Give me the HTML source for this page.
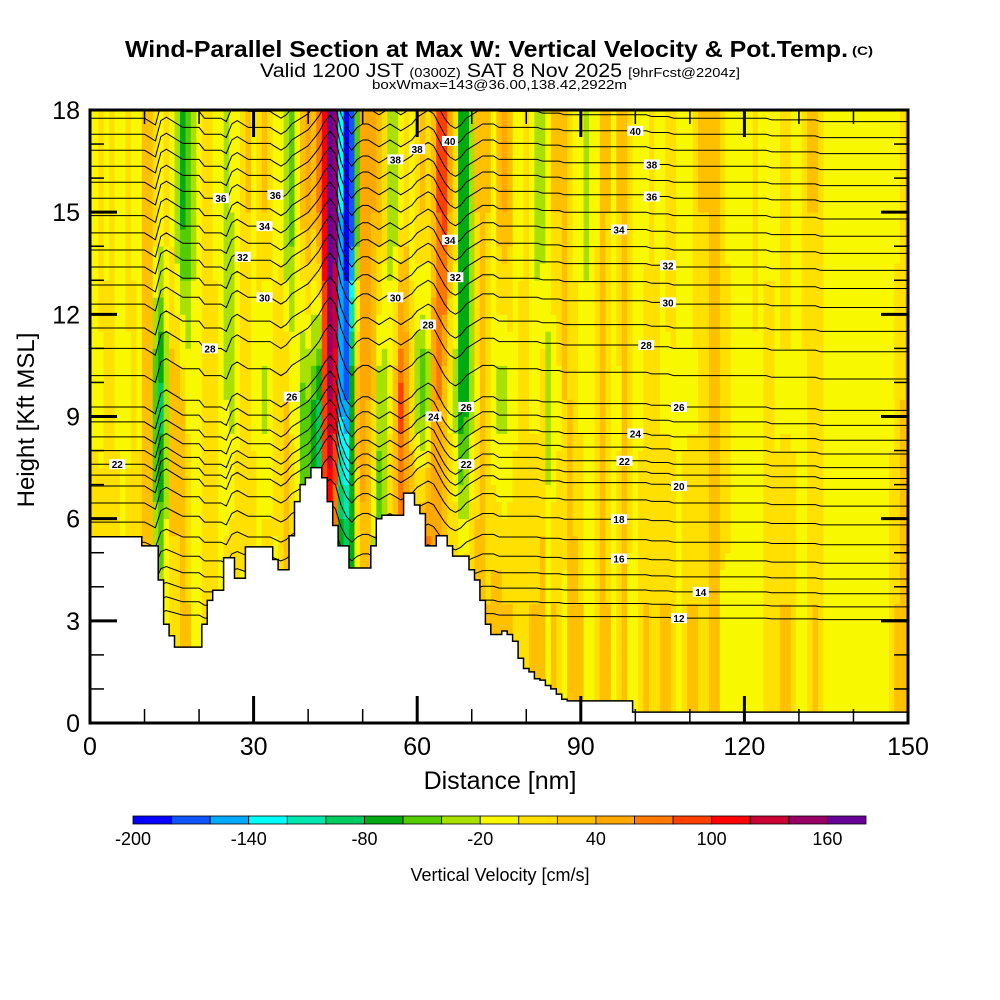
<!DOCTYPE html>
<html><head><meta charset="utf-8">
<style>
html,body{margin:0;padding:0;background:#fff;}
svg{display:block;font-family:"Liberation Sans",Arial,sans-serif;}
</style></head>
<body>
<svg id="chart" width="1000" height="1000" viewBox="0 0 1000 1000" xmlns="http://www.w3.org/2000/svg">
<rect width="1000" height="1000" fill="#fff"/>
<g>
<text x="125" y="57" font-size="23" font-weight="bold" textLength="723" lengthAdjust="spacingAndGlyphs">Wind-Parallel Section at Max W: Vertical Velocity &amp; Pot.Temp.</text>
<text x="852" y="55" font-size="12" font-weight="bold" textLength="21" lengthAdjust="spacingAndGlyphs">(C)</text>
</g>
<text x="260" y="77" font-size="19" textLength="480" lengthAdjust="spacingAndGlyphs">Valid 1200 JST <tspan font-size="13">(0300Z)</tspan> SAT 8 Nov 2025 <tspan font-size="13">[9hrFcst@2204z]</tspan></text>
<text x="372" y="89" font-size="13" textLength="255" lengthAdjust="spacingAndGlyphs">boxWmax=143@36.00,138.42,2922m</text>
<defs><clipPath id="plotclip"><rect x="90" y="110" width="818" height="613"/></clipPath></defs>
<g id="field" clip-path="url(#plotclip)"></g>
<g id="contours" clip-path="url(#plotclip)"></g>
<g id="terrain" clip-path="url(#plotclip)"></g>
<g id="labels"></g>
<rect x="90" y="110" width="818" height="613" fill="none" stroke="#000" stroke-width="3"/>
<g id="axes"></g>
<text transform="translate(34,420) rotate(-90)" text-anchor="middle" font-size="24">Height [Kft MSL]</text>
<text x="500" y="789" text-anchor="middle" font-size="25">Distance [nm]</text>
<g id="cbar"></g>
<text x="500" y="881" text-anchor="middle" font-size="18">Vertical Velocity [cm/s]</text>
</svg>
<script>
const colors = ["#0000ff","#0f55ff","#00aaff","#00ffff","#00e8b0","#00cc60","#00aa10","#55cc00","#aae000","#f8f800","#ffe000","#ffc000","#ffa800","#ff7800","#ff4000","#ff0000","#cc0033","#990066","#660099"];
const cbarTicks = [-200,-140,-80,-20,40,100,160];
const xTicks = [0,30,60,90,120,150];
const yTicks = [0,3,6,9,12,15,18];
const wTop = [-5,-5,10,-5,10,-5,-5,10,-5,-5, 30,30,15,-5,10,-5,-40,-70,-60,-30, -5,15,10,-5,-20,-30,-20,-5,15,20, -5,15,20,10,-5,-5,-40,-50,-20,30, 40,30,60,110,170,150,-140,-190,-180,-60, 40,50,40,30,10,-30,-30,-5,10,-5, 15,20,10,30,80,90,40,10,-70,-80, -40,20,30,20,-5,30,40,30,-5,-5, 10,-5,-30,-30,-5,20,20,20,10,-5, -10,-30,-20,-5,20,20,-5,20,20,15, -5,-5,-5,10,-5,-5,10,15,-5,-5, -5,15,20,20,20,20,15,-5,-5,-5, -5,-5,10,-5,-5,-5,-5,15,15,-5, -5,15,20,20,15,-5,-5,-5,-5,-5, -5,-5,-5,-5,-5,-5,-5,-5,-5,10,20];
const wMid = [-5,-5,-5,10,15,-5,-5,-5,10,-5, 20,30,-60,-90,-40,30,30,20,-5,-5, -5,10,15,10,-5,-20,-30,-5,20,10, -5,-20,-30,-20,10,15,20,-5,-20,-50, -40,-60,-80,80,140,110,-150,-160,-60,40, 50,40,20,-30,-30,-5,30,90,60,10, -40,-60,-30,50,60,30,-5,-30,-80,-70, -30,-5,20,10,-20,-30,-30,-20,-5,10, 10,-5,-5,10,-30,-20,-5,20,20,10, -5,-5,-5,20,20,15,-5,-5,20,15, -5,-5,15,20,15,-5,-5,-5,-5,-5, -5,-5,15,15,20,20,20,15,-5,-5, -5,-5,-5,-5,10,10,-5,-5,-5,-5, -5,-5,15,15,10,-5,-5,-5,-5,-5, -5,-5,-5,-5,-5,-5,-5,-5,15,20,20];
const wBot = [15,15,10,-5,15,15,-5,10,-5,15, 20,30,-20,-30,-5,15,15,20,20,-5, -5,15,20,15,-5,10,20,15,-5,20, 15,-5,20,15,-5,15,20,20,-5,-50, -80,-120,-100,120,80,40,-30,-60,-80,-20, 30,20,-40,-70,-30,20,30,40,40,50, 70,100,110,60,50,40,30,30,20,20, 30,40,30,20,30,30,20,20,15,15, 15,20,20,25,-5,20,15,-5,20,25, 20,-5,-5,15,20,20,-5,15,20,-5, -5,15,20,15,15,20,20,15,-5,15, 20,20,15,15,20,20,-5,-5,-5,-5, -5,-5,-5,-5,10,15,15,20,20,15, -5,-5,15,20,15,-5,-5,-5,-5,-5, -5,-5,-5,-5,-5,-5,-5,15,20,20,20];
const terrain = [5.47,5.47,5.47,5.47,5.47,5.47,5.47,5.47,5.47,5.47, 5.2,5.2,5.2,4.2,2.9,2.56,2.23,2.23,2.23,2.23, 2.23,2.9,3.6,3.9,3.9,4.85,4.85,4.25,4.25,5.17, 5.17,5.17,5.17,5.17,4.8,4.5,4.5,5.5,6.5,7.0, 7.2,7.5,7.5,7.2,6.5,5.8,5.2,5.2,4.55,4.55, 4.55,4.55,5.2,6.0,6.1,6.1,6.1,6.1,6.75,6.75, 6.4,6.15,5.2,5.2,5.5,5.5,5.2,4.9,4.9,4.9, 4.5,4.2,3.6,2.9,2.6,2.6,2.7,2.6,2.4,1.9, 1.6,1.5,1.3,1.26,1.1,1.0,0.85,0.7,0.65,0.65, 0.65,0.65,0.65,0.65,0.65,0.65,0.65,0.65,0.65,0.65, 0.32,0.32,0.32,0.32,0.32,0.32,0.32,0.32,0.32,0.32, 0.32,0.32,0.32,0.32,0.32,0.32,0.32,0.32,0.32,0.32, 0.32,0.32,0.32,0.32,0.32,0.32,0.32,0.32,0.32,0.32, 0.32,0.32,0.32,0.32,0.32,0.32,0.32,0.32,0.32,0.32, 0.32,0.32,0.32,0.32,0.32,0.32,0.32,0.32,0.32,0.32,0.32];
const thetaLevels = [12,13,14,15,16,17,18,19,20,21,22,23,24,25,26,27,28,29,30,31,32,33,34,35,36,37,38,39,40,41,42];
const thetaHeights = [3.08,3.46,3.85,4.29,4.76,5.31,5.9,6.46,6.96,7.28,7.6,8.0,8.4,8.84,9.28,10.2,11.0,11.6,12.3,12.86,13.39,13.89,14.39,14.9,15.41,15.88,16.35,16.82,17.29,17.76,18.3];
const thetaDisp = [0,0,0,0,0,0,0,0,0,0, 0,-0.1,-0.2,0.4,0.5,0.4,0.3,0.2,0.2,0.2, 0.2,0,0,0,0,-0.1,0.3,0.4,0.3,0.2, 0.2,0.2,0.2,0.2,0.1,0,0.1,0.3,0.4,0.5, 0.6,0.8,1.0,1.3,1.5,1.3,0.6,0.2,0,0.2, 0.3,0.3,0.2,0.1,0.2,0.3,0.2,0.1,0.2,0.3, 0.5,0.6,0.7,0.6,0.3,0,-0.2,-0.3,-0.2,0, 0.1,0.2,0.3,0.3,0.3,0.2,0.2,0.2,0.2,0.2, 0.2,0.2,0.2,0.15,0.15,0.15,0.15,0.1,0.1,0.1, 0.1,0.1,0.1,0.1,0.1,0.1,0.1,0.1,0.1,0.1, 0.1,0.1,0.1,0.05,0.05,0.05,0.05,0,0,0, 0,0,0,0,0,0,0,0,0,0, 0,0,0,0,0,-0.05,-0.05,-0.05,-0.05,-0.05, -0.05,-0.05,-0.05,-0.05,-0.1,-0.1,-0.1,-0.1,-0.1,-0.1, -0.1,-0.1,-0.1,-0.1,-0.1,-0.1,-0.1,-0.1,-0.1,-0.1,-0.1];
const labelTheta = [40,40,38,36,34,32,30,28,26,24,22,20,18,16,14,12,36,36,34,32,30,28,26,22,38,38,34,32,30,28,26,24,22];
const labelNm = [66,100,103,103,97,106,106,102,108,100,98,108,97,97,112,108,24,34,32,28,32,22,37,5,56,60,66,67,56,62,69,63,69];

const NS = "http://www.w3.org/2000/svg";
const X = nm => 90 + nm * (818/150);
const Y = k => 723 - k * (613/18);
function mk(tag, attrs, parent){const e=document.createElementNS(NS,tag);for(const k in attrs)e.setAttribute(k,attrs[k]);parent.appendChild(e);return e;}
function colorOf(v){let i=Math.floor((v+200)/20);i=Math.max(0,Math.min(colors.length-1,i));return colors[i];}
function wAt(i,z){
  const cb=3.5, cm=9.5, ct=15;
  if(z<=cb) return wBot[i];
  if(z<=cm){const t=(z-cb)/(cm-cb);return wBot[i]*(1-t)+wMid[i]*t;}
  if(z<=ct){const t=(z-cm)/(ct-cm);return wMid[i]*(1-t)+wTop[i]*t;}
  return wTop[i];
}
const field=document.getElementById('field');
for(let i=0;i<wTop.length;i++){
  for(let r=0;r<36;r++){
    const z0=r*0.5, zc=z0+0.25;
    const c=mk('rect',{x:X(i-0.5).toFixed(2),y:Y(z0+0.5).toFixed(2),width:(818/150+0.4).toFixed(2),height:(613/36+0.4).toFixed(2),fill:colorOf(wAt(i,zc))},field);
    
    
  }
}
const cont=document.getElementById('contours');
function thetaY(j,i){return Y(thetaHeights[j]+thetaDisp[i]*Math.min(1,thetaHeights[j]/7));}
for(let j=0;j<thetaLevels.length;j++){
  let pts=[];
  for(let i=0;i<thetaDisp.length;i++) pts.push(X(i).toFixed(1)+','+thetaY(j,i).toFixed(1));
  const p=mk('polyline',{points:pts.join(' '),fill:'none',stroke:'#000','stroke-width':1},cont);
  
  
}
const ter=document.getElementById('terrain');
let tp=['88,'+Y(-0.2), '88,'+Y(terrain[0]).toFixed(1)];
for(let i=0;i<terrain.length;i++){
  const xa=Math.max(88,X(i-0.5)), xb=Math.min(910,X(i+0.5));
  tp.push(xa.toFixed(1)+','+Y(terrain[i]).toFixed(1));
  tp.push(xb.toFixed(1)+','+Y(terrain[i]).toFixed(1));
}
tp.push('910,'+Y(-0.2));
const tpoly=mk('polygon',{points:tp.join(' '),fill:'#fff',stroke:'#000','stroke-width':1.5},ter);


const lab=document.getElementById('labels');
for(let k=0;k<labelTheta.length;k++){
  const j=thetaLevels.indexOf(labelTheta[k]);
  const i=labelNm[k];
  const x=X(i), y=thetaY(j,i);
  const g=mk('g',{},lab);
  
  
  mk('rect',{x:x-8,y:y-5,width:16,height:10,fill:'#fff'},g);
  const t=mk('text',{x:x,y:y+4,'text-anchor':'middle','font-size':10,'font-weight':'bold'},g);
  t.textContent=labelTheta[k];
}
const ax=document.getElementById('axes');
for(let v=0;v<=150;v+=10){
  const major=v%30===0, L=major?27:14;
  for(const [y0,d] of [[723,-1],[110,1]]){
    const l=mk('line',{x1:X(v),x2:X(v),y1:y0,y2:y0+d*L,stroke:'#000','stroke-width':major?3:1.5},ax);
    
    
  }
}
for(let v=0;v<=18;v+=1){
  const major=v%3===0, L=major?27:14;
  for(const [x0,d] of [[90,1],[908,-1]]){
    const l=mk('line',{x1:x0,x2:x0+d*L,y1:Y(v),y2:Y(v),stroke:'#000','stroke-width':major?3:1.5},ax);
    
    
  }
}
for(const v of xTicks){
  const t=mk('text',{x:X(v),y:755,'text-anchor':'middle','font-size':25},ax);
  
  
  t.textContent=v;
}
for(const v of yTicks){
  const t=mk('text',{x:80,y:Y(v)+9,'text-anchor':'end','font-size':25},ax);
  
  
  t.textContent=v;
}
const cb=document.getElementById('cbar');
const cbX=v=>133+(v+200)*(733/380);
for(let k=0;k<colors.length;k++){
  const r=mk('rect',{x:cbX(-200+k*20),y:816,width:733/19,height:8,fill:colors[k],stroke:'#000','stroke-width':0.8},cb);
  
  
}
for(const v of cbarTicks){
  const t=mk('text',{x:cbX(v),y:845,'text-anchor':'middle','font-size':18},cb);
  
  
  t.textContent=v;
}
</script>
</body></html>
